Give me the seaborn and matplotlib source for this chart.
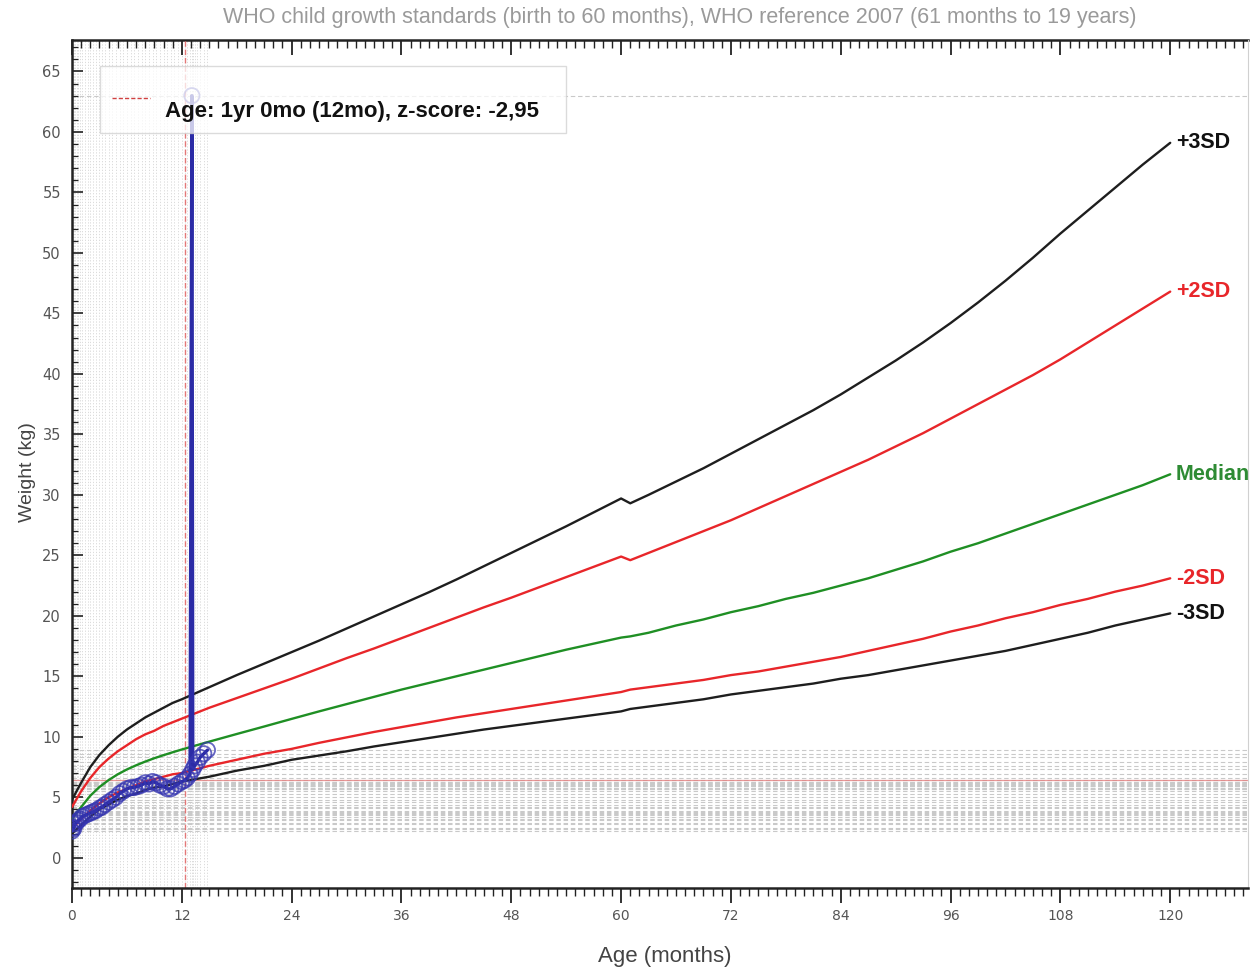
import matplotlib
matplotlib.use("Agg")
import matplotlib.pyplot as plt
from matplotlib.patches import Rectangle
from matplotlib.lines import Line2D
from matplotlib.ticker import MultipleLocator
import seaborn as sns
import pandas as pd

# ---------------- data ----------------
# WHO child growth standards (girls weight-for-age), 0-60 months
std_age = [0, 1, 2, 3, 4, 5, 6, 7, 8, 9, 10, 11, 12, 15, 18, 21, 24,
           27, 30, 33, 36, 39, 42, 45, 48, 51, 54, 57, 60]
std_m3 = [2.0, 2.7, 3.4, 4.0, 4.4, 4.8, 5.1, 5.3, 5.6, 5.8, 5.9, 6.1, 6.3, 6.7, 7.2, 7.6, 8.1,
          8.45, 8.8, 9.2, 9.55, 9.9, 10.25, 10.6, 10.9, 11.2, 11.5, 11.8, 12.1]
std_m2 = [2.4, 3.2, 3.9, 4.5, 5.0, 5.4, 5.7, 6.0, 6.3, 6.5, 6.7, 6.9, 7.0, 7.6, 8.1, 8.6, 9.0,
          9.5, 9.95, 10.4, 10.8, 11.2, 11.6, 11.95, 12.3, 12.65, 13.0, 13.35, 13.7]
std_med = [3.23, 4.19, 5.13, 5.85, 6.42, 6.90, 7.30, 7.64, 7.95, 8.23, 8.48, 8.72, 8.95, 9.60, 10.23, 10.85, 11.48,
           12.1, 12.7, 13.3, 13.9, 14.45, 15.0, 15.55, 16.1, 16.65, 17.2, 17.7, 18.2]
std_p2 = [4.2, 5.5, 6.6, 7.5, 8.2, 8.8, 9.3, 9.8, 10.2, 10.5, 10.9, 11.2, 11.5, 12.4, 13.2, 14.0, 14.8,
          15.65, 16.5, 17.3, 18.15, 19.0, 19.85, 20.7, 21.5, 22.35, 23.2, 24.05, 24.9]
std_p3 = [4.8, 6.2, 7.5, 8.5, 9.3, 10.0, 10.6, 11.1, 11.6, 12.0, 12.4, 12.8, 13.1, 14.1, 15.1, 16.05, 17.0,
          17.95, 18.95, 19.95, 20.95, 21.95, 23.0, 24.1, 25.2, 26.3, 27.4, 28.55, 29.7]

# WHO reference 2007, 61-120 months
ref_age = [61, 63, 66, 69, 72, 75, 78, 81, 84, 87, 90, 93, 96, 99, 102, 105, 108, 111, 114, 117, 120]
ref_p3 = [29.3, 30.0, 31.1, 32.2, 33.4, 34.6, 35.8, 37.0, 38.3, 39.7, 41.1, 42.6, 44.2, 45.9, 47.7, 49.6, 51.6, 53.5, 55.4, 57.3, 59.1]
ref_p2 = [24.6, 25.2, 26.1, 27.0, 27.9, 28.9, 29.9, 30.9, 31.9, 32.9, 34.0, 35.1, 36.3, 37.5, 38.7, 39.9, 41.2, 42.6, 44.0, 45.4, 46.8]
ref_med = [18.3, 18.6, 19.2, 19.7, 20.3, 20.8, 21.4, 21.9, 22.5, 23.1, 23.8, 24.5, 25.3, 26.0, 26.8, 27.6, 28.4, 29.2, 30.0, 30.8, 31.7]
ref_m2 = [13.9, 14.1, 14.4, 14.7, 15.1, 15.4, 15.8, 16.2, 16.6, 17.1, 17.6, 18.1, 18.7, 19.2, 19.8, 20.3, 20.9, 21.4, 22.0, 22.5, 23.1]
ref_m3 = [12.3, 12.5, 12.8, 13.1, 13.5, 13.8, 14.1, 14.4, 14.8, 15.1, 15.5, 15.9, 16.3, 16.7, 17.1, 17.6, 18.1, 18.6, 19.2, 19.7, 20.2]

curve_names = ["+3SD", "+2SD", "Median", "-2SD", "-3SD"]
curve_colors = ["#1e1e1e", "#e8262a", "#1f8f24", "#e8262a", "#1e1e1e"]
label_colors = ["#111111", "#e8262a", "#2e8b34", "#e8262a", "#111111"]

# patient measurements
pt_age = [0.0, 0.1, 0.2, 0.3, 0.5, 0.7, 0.9, 1.1, 1.4, 1.7, 2.0, 2.3, 2.6, 3.0, 3.3, 3.6,
          4.0, 4.4, 4.8, 5.2, 5.6, 6.0, 6.4, 6.8, 7.2, 7.6, 8.0, 8.4, 8.8, 9.2, 9.6, 10.0,
          10.4, 10.8, 11.2, 11.6, 12.0, 12.3, 12.6, 12.9, 13.1, 13.2, 13.4, 13.7, 14.0, 14.4, 14.8]
pt_wt = [2.2, 2.5, 2.4, 2.8, 2.9, 3.1, 3.2, 3.4, 3.5, 3.6, 3.7, 3.8, 3.9, 4.1, 4.2, 4.4,
         4.6, 4.8, 5.0, 5.3, 5.5, 5.7, 5.8, 5.8, 5.9, 6.0, 6.2, 6.1, 6.3, 6.2, 6.0, 5.9,
         5.7, 5.7, 5.9, 6.1, 6.3, 6.4, 6.6, 6.9, 63.0, 7.3, 7.6, 7.9, 8.3, 8.6, 8.9]

cursor_age = 12.3
cursor_wt = 6.4
cursor_text = "Age: 1yr 0mo (12mo), z-score: -2,95"
title_text = "WHO child growth standards (birth to 60 months), WHO reference 2007 (61 months to 19 years)"

# ---------------- figure ----------------
sns.set_style("white")
plt.rcParams["font.family"] = ["Liberation Sans", "DejaVu Sans"]

fig = plt.figure(figsize=(12.55, 9.74), dpi=100)
ax = fig.add_axes([72 / 1255, 1 - 888 / 974, (1248 - 72) / 1255, (888 - 40) / 974])

# measurement guide lines
for a in pt_age:
    ax.axvline(a, color="#d6d6d6", ls=(0, (1.5, 2)), lw=0.6, zorder=0)
for w in pt_wt:
    ax.axhline(w, color="#c9c9c9", ls=(0, (4, 2.5)), lw=0.8, zorder=0)

# cursor lines
ax.axvline(cursor_age, color="#e05a5a", ls=(0, (4, 2)), lw=1.0, alpha=0.8, zorder=1)
ax.axhline(cursor_wt, color="#e58080", lw=0.9, alpha=0.8, zorder=1)

std_sets = [std_p3, std_p2, std_med, std_m2, std_m3]
ref_sets = [ref_p3, ref_p2, ref_med, ref_m2, ref_m3]
for name, col, s, r in zip(curve_names, curve_colors, std_sets, ref_sets):
    d = pd.DataFrame({"age": std_age + ref_age, "wt": s + r})
    sns.lineplot(data=d, x="age", y="wt", color=col, lw=1.7, ax=ax, sort=False,
                 estimator=None, zorder=3)

for name, col, r in zip(curve_names, label_colors, ref_sets):
    ax.text(120.6, r[-1], name, color=col, fontsize=15.5, fontweight="bold",
            ha="left", va="center", zorder=5, clip_on=False)

# patient series
pdf = pd.DataFrame({"age": pt_age, "wt": pt_wt})
sns.lineplot(data=pdf, x="age", y="wt", color="#2b2ba6", lw=2.4, ax=ax, sort=False,
             estimator=None, zorder=4)
sns.scatterplot(data=pdf, x="age", y="wt", ax=ax, marker="o", s=120,
                facecolors="none", edgecolor="#3535b0", linewidth=1.3, alpha=0.75, zorder=4)

ax.set_xlim(0, 128.5)
ax.set_ylim(-2.5, 67.6)

ax.xaxis.set_major_locator(MultipleLocator(12))
ax.xaxis.set_minor_locator(MultipleLocator(1))
ax.yaxis.set_major_locator(MultipleLocator(5))
ax.yaxis.set_minor_locator(MultipleLocator(1))

ax.tick_params(axis="x", which="major", direction="out", length=11, width=1.3,
               color="#222222", top=False, bottom=True, labelsize=10, labelcolor="#555555",
               pad=4)
ax.tick_params(axis="x", which="minor", direction="out", length=6, width=1.0,
               color="#222222", top=False, bottom=True)
ax.tick_params(axis="y", which="major", direction="in", length=8, width=1.2,
               color="#222222", left=True, labelsize=10.5, labelcolor="#555555", pad=8)
ax.tick_params(axis="y", which="minor", direction="in", length=4, width=0.9,
               color="#222222", left=True)
for lab in ax.get_xticklabels() + ax.get_yticklabels():
    lab.set_fontfamily("DejaVu Sans")

# top ticks drawn inward via secondary axis
sec = ax.secondary_xaxis("top")
sec.xaxis.set_major_locator(MultipleLocator(12))
sec.xaxis.set_minor_locator(MultipleLocator(1))
sec.tick_params(axis="x", which="major", direction="in", length=11, width=1.3,
                color="#222222", labeltop=False)
sec.tick_params(axis="x", which="minor", direction="in", length=6, width=1.0,
                color="#222222")
sec.spines["top"].set_linewidth(1.8)
sec.spines["top"].set_color("#222222")

for side in ["bottom", "left"]:
    ax.spines[side].set_visible(True)
    ax.spines[side].set_color("#222222")
    ax.spines[side].set_linewidth(1.8)
ax.spines["top"].set_visible(False)
ax.spines["right"].set_color("#d0d0d0")
ax.spines["right"].set_linewidth(0.8)

ax.set_xlabel("Age (months)", fontsize=16, color="#444444")
ax.set_ylabel("Weight (kg)", fontsize=14, color="#444444")
ax.xaxis.set_label_coords((665 - 72) / 1176, (888 - 946) / 848)
ax.yaxis.set_label_coords((36 - 72) / 1176, (888 - 472) / 848)

# cursor info box
box = Rectangle((100 / 1255, 1 - 133 / 974), 466 / 1255, 67 / 974,
                transform=fig.transFigure, facecolor="white", edgecolor="#cfcfcf",
                lw=1.0, alpha=0.75, zorder=10)
fig.add_artist(box)
fig.add_artist(Line2D([112 / 1255, 150 / 1255], [1 - 98 / 974, 1 - 98 / 974],
                      transform=fig.transFigure, color="#d04040", ls=(0, (3, 1.5)),
                      lw=1.0, zorder=11))
fig.text(165 / 1255, 1 - 111 / 974, cursor_text, fontsize=16, fontweight="bold",
         color="#111111", ha="left", va="center", zorder=12)

fig.text(680 / 1255, 1 - 18 / 974, title_text, fontsize=15.5, color="#9a9a9a",
         ha="center", va="center")

fig.savefig("out.png", dpi=100)
